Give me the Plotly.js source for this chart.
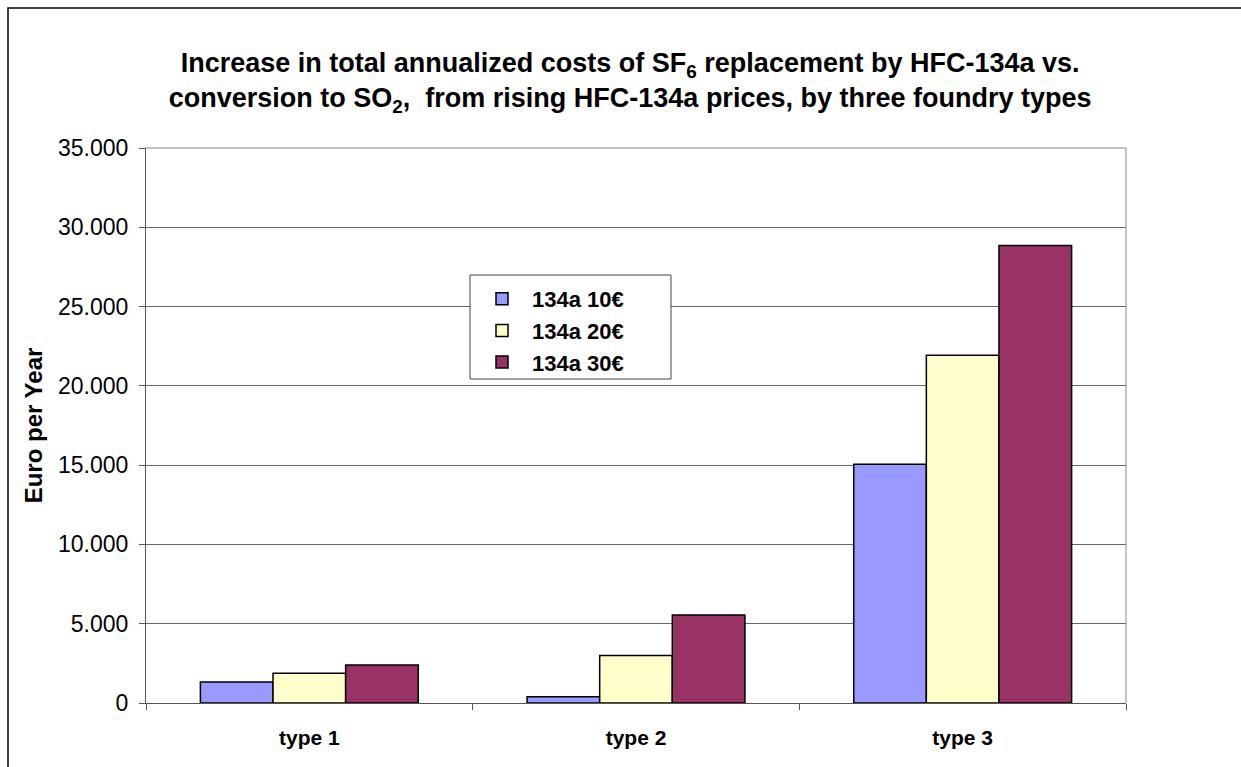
<!DOCTYPE html>
<html>
<head>
<meta charset="utf-8">
<script src="https://cdn.plot.ly/plotly-3.0.1.min.js"></script>
<style>
html,body{margin:0;padding:0;background:#fff;}
#chart{width:1241px;height:767px;}
</style>
</head>
<body>
<div id="chart"></div>
<script>
const categories = ["type 1", "type 2", "type 3"];
const seriesNames = ["134a 10€", "134a 20€", "134a 30€"];
const price10 = [1330, 400, 15050];
const price20 = [1870, 3000, 21930];
const price30 = [2400, 5550, 28850];
const seriesColors = ["#9999FF", "#FFFFCC", "#993366"];
const yTicks = [0, 5000, 10000, 15000, 20000, 25000, 30000, 35000];

const values = [price10, price20, price30];
const traces = values.map((v, i) => ({
  type: "bar",
  name: "<b>" + seriesNames[i] + "</b>",
  x: categories,
  y: v,
  marker: {color: seriesColors[i], line: {color: "#000000", width: 1.5}},
  hoverinfo: "x+y+name"
}));

const L = 146, R = 1126, T = 148, B = 703, W = 1241, H = 767;
const pw = R - L, ph = B - T;
const px = x => (x - L) / pw;
const py = y => (B - y) / ph;
const FONT = "Liberation Sans, Arial, sans-serif";

const layout = {
  width: W, height: H,
  margin: {l: L, r: W - R, t: T, b: H - B, pad: 0},
  paper_bgcolor: "#ffffff",
  plot_bgcolor: "#ffffff",
  separators: ",.",
  font: {family: FONT, color: "#000000"},
  title: {
    text: "<b>Increase in total annualized costs of SF<sub>6</sub> replacement by HFC-134a vs.<br>conversion to SO<sub>2</sub>,  from rising HFC-134a prices, by three foundry types</b>",
    font: {size: 27, family: FONT, color: "#000"},
    x: 0.494, xref: "paper", xanchor: "center",
    y: 1 - 72 / H, yanchor: "middle", yref: "container"
  },
  barmode: "group",
  bargap: 0.333,
  bargroupgap: 0,
  xaxis: {
    type: "category",
    tickfont: {size: 21, family: FONT},
    ticks: "outside", tickson: "boundaries", ticklen: 6, tickcolor: "#555",
    showline: true, linecolor: "#555", linewidth: 1,
    showgrid: false, zeroline: false,
    ticklabelstandoff: 16,
    tickprefix: "<b>", ticksuffix: "</b>"
  },
  yaxis: {
    range: [0, 35000],
    tickvals: yTicks,
    tickformat: ",d",
    tickfont: {size: 23, family: FONT},
    ticks: "outside", ticklen: 6, tickcolor: "#555",
    ticklabelstandoff: 6,
    showline: true, linecolor: "#555", linewidth: 1,
    showgrid: true, gridcolor: "#666", gridwidth: 1,
    zeroline: false,
    title: {text: "<b>Euro per Year</b>", font: {size: 24, family: FONT}, standoff: 8}
  },
  legend: {
    x: px(472), y: py(278), xanchor: "left", yanchor: "top",
    bgcolor: "rgba(0,0,0,0)", borderwidth: 0,
    font: {size: 22, family: FONT},
    itemwidth: 50,
    traceorder: "normal"
  },
  showlegend: true,
  shapes: [
    {type: "line", xref: "paper", yref: "paper", x0: 0, x1: 1, y0: 1, y1: 1, line: {color: "#888", width: 1}},
    {type: "line", xref: "paper", yref: "paper", x0: 1, x1: 1, y0: 0, y1: 1, line: {color: "#888", width: 1}},
    {type: "rect", xref: "paper", yref: "paper", x0: px(470), x1: px(671), y0: py(275), y1: py(379), fillcolor: "#ffffff", line: {color: "#444", width: 1}, layer: "above"},
    {type: "rect", xref: "paper", yref: "paper", x0: px(8), x1: px(1245), y0: py(8), y1: py(771), line: {color: "#000", width: 1.5}, layer: "below"}
  ]
};

Plotly.newPlot("chart", traces, layout, {displayModeBar: false, staticPlot: true});
</script>
</body>
</html>
